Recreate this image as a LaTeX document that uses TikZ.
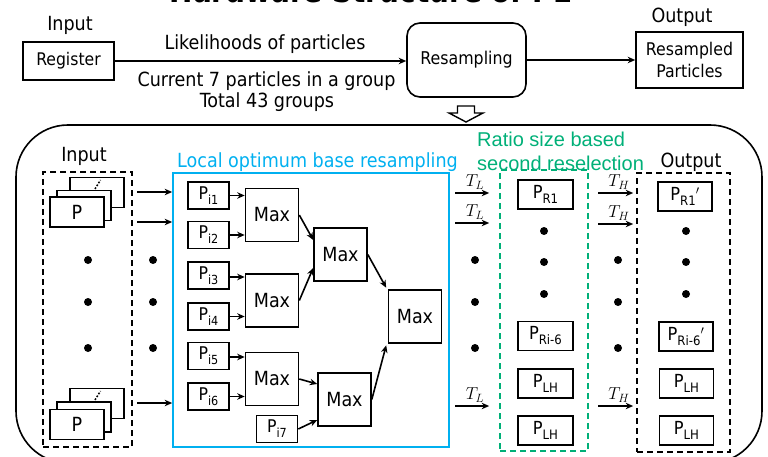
\documentclass[tikz,border=0pt]{standalone}
\usepackage{fontspec}
\setmainfont{DejaVu Sans Condensed}
\newfontfamily\arialf{Liberation Sans}
\usetikzlibrary{arrows.meta,calc}
\definecolor{lblue}{RGB}{0,176,240}
\definecolor{tgreen}{RGB}{0,176,120}
\newcommand\fsz[2]{\fontsize{#1}{#2}\selectfont}
\newcommand\sbs[2][12.5]{\raisebox{-5pt}{\fsz{#1}{#1}#2}}
\tikzset{
  bx/.style={draw, line width=1.6pt, inner sep=0pt, fill=white},
  maxbox/.style={bx, minimum width=53, minimum height=53, font=\fsz{19.5}{20}},
  pibox/.style={bx, minimum width=41, minimum height=27, font=\fsz{17.5}{18}},
  prbox/.style={bx, minimum width=55, minimum height=29, font=\fsz{18}{18}},
  card/.style={bx, minimum width=54, minimum height=30, font=\fsz{19.5}{20}},
  arr/.style={line width=1.6pt, -{Stealth[length=7.5pt,width=6.5pt]}},
  lab/.style={inner sep=0pt, font=\fsz{19.5}{22}},
  dot/.style={circle, fill=black, inner sep=0pt, minimum size=8},
  dbox/.style={draw, line width=1.7pt, dash pattern=on 6pt off 4pt, inner sep=0pt},
  tlab/.style={inner sep=0pt, font=\fsz{18}{18}},
}
\begin{document}
\begin{tikzpicture}[x=1pt,y=-1pt]
\useasboundingbox (0,0) rectangle (768,457);

% ---------- title (cropped) ----------
\node[anchor=base, inner sep=0pt, font=\fsz{31}{32}\bfseries] (title) at (371,2.5) {Hardware Structure of PE};

% ---------- top row ----------
\node[lab] (inTop) at (70,25.5) {Input};
\node[bx, minimum width=91, minimum height=38, font=\fsz{17.4}{18}] (reg) at (68.5,61) {Register};
\node[bx, rounded corners=13, minimum width=119, minimum height=74, font=\fsz{17.6}{18}] (res) at (466.5,60) {Resampling};
\node[bx, minimum width=107, minimum height=56, align=center, font=\fsz{17.5}{22}] (rp) at (689.5,60) {Resampled\\Particles};
\node[lab] (outTop) at (682,17.5) {Output};
\draw[arr] (reg.east) -- (reg.east -| res.west);
\draw[arr] (res.east) -- (res.east -| rp.west);
\node[lab] (l1) at (265,44) {Likelihoods of particles};
\node[lab] (l2) at (266.5,81) {Current 7 particles in a group};
\node[lab] (l3) at (267,102.5) {Total 43 groups};

% hollow block arrow
\draw[line width=1.4pt, fill=white] (457.5,106) -- (474.5,106) -- (474.5,113) -- (483,113) -- (466,122) -- (449,113) -- (457.5,113) -- cycle;

% ---------- big frame ----------
\node[draw, line width=1.6pt, rounded corners=52, minimum width=746, minimum height=338, inner sep=0pt] (frame) at (389,294) {};

% ---------- input column ----------
\node[lab] (inIn) at (84,156.5) {Input};
\node[dbox, minimum width=89, minimum height=275] (inbox) at (87.5,309.5) {};
% top stack
\node[card] (cb1) at (97,192.5) {};
\draw[line width=1.5pt, dash pattern=on 1.8pt off 1.6pt] (95,189) -- (100.5,180);
\node[card] (cm1) at (84,205.5) {};
\node[card] (cf1) at (77,212) {P};
% bottom stack
\node[card] (cb2) at (97,403.5) {};
\draw[line width=1.5pt, dash pattern=on 1.8pt off 1.6pt] (95,400) -- (100.5,391);
\node[card] (cm2) at (84,417) {};
\node[card] (cf2) at (77,424.5) {P};

\foreach \yy in {260,302,348} {
  \node[dot] at (88,\yy) {};
  \node[dot] at (153,\yy) {};
  \node[dot] at (475,\yy) {};
  \node[dot] at (618,\yy) {};
}

% ---------- local optimum box ----------
\node[inner sep=0pt, font=\fsz{19.5}{22}, text=lblue] (loclab) at (317.5,162) {Local optimum base resampling};
\node[draw=lblue, line width=1.7pt, minimum width=276, minimum height=274, inner sep=0pt] (local) at (311,310) {};

\coordinate (ia1) at (137,192);
\coordinate (ia2) at (137,222);
\coordinate (ia3) at (137,403);
\foreach \c in {ia1,ia2,ia3} \draw[arr] (\c) -- (\c -| local.west);

\node[pibox] (p1) at (208.5,195.5) {P\sbs{i1}};
\node[pibox] (p2) at (208.5,235) {P\sbs{i2}};
\node[pibox] (p3) at (208.5,275.5) {P\sbs{i3}};
\node[pibox] (p4) at (208.5,316.5) {P\sbs{i4}};
\node[pibox] (p5) at (208.5,356) {P\sbs{i5}};
\node[pibox] (p6) at (208.5,396.5) {P\sbs{i6}};
\node[pibox] (p7) at (277,429) {P\sbs{i7}};

\node[maxbox] (m1) at (272,215) {Max};
\node[maxbox] (m2) at (272,300.5) {Max};
\node[maxbox] (m3) at (272,379) {Max};
\node[maxbox] (m4) at (340.5,254.5) {Max};
\node[maxbox] (m5) at (344.5,399.5) {Max};
\node[maxbox] (m6) at (415,316.5) {Max};

\draw[arr] (p1.east) -- (p1.east -| m1.west);
\draw[arr] (p2.east) -- (p2.east -| m1.west);
\draw[arr] ($(p3.east)+(0,1.5)$) -- ($(p3.east -| m2.west)+(0,1.5)$);
\draw[arr] (p4.east) -- (p4.east -| m2.west);
\draw[arr] ($(p5.east)+(0,1)$) -- ($(p5.east -| m3.west)+(0,1)$);
\draw[arr] (p6.east) -- (p6.east -| m3.west);
\draw[arr] (p7.east) -- ($(m5.west)+(0,20.5)$);
\draw[arr] (m3.east) -- ($(m5.west)+(0,-15.5)$);
\draw[arr] (m1.east) -- ($(m4.west)+(0,-14.5)$);
\draw[arr] (m2.east) -- ($(m4.west)+(0,13.5)$);
\draw[arr] (m4.east) -- ($(m6.north west)+(-1.5,-1.5)$);
\draw[arr] (m5.east) -- ($(m6.south west)+(-1.5,1.5)$);

% ---------- ratio based second reselection ----------
\node[anchor=west, inner sep=0pt, font=\arialf\fsz{20}{22}, text=tgreen] (rlab1) at (477,139.5) {Ratio size based};
\node[dbox, draw=tgreen, minimum width=88, minimum height=281] (green) at (544,310.5) {};
\node[anchor=west, inner sep=0pt, font=\arialf\fsz{20}{22}, text=tgreen] (rlab2) at (477,163) {second reselection};

\node[prbox] (r1) at (545.5,194.5) {P\sbs[13]{R1}};
\node[prbox] (r2) at (545.5,336) {P\sbs[13]{Ri-6}};
\node[prbox] (r3) at (545.5,383.5) {P\sbs[13]{LH}};
\node[prbox] (r4) at (545.5,430.5) {P\sbs[13]{LH}};
\foreach \yy in {231,262,294} {
  \node[dot] at (544,\yy) {};
  \node[dot] at (686,\yy) {};
}

\coordinate (tl1) at (455,193);
\coordinate (tl2) at (455,223);
\coordinate (tl3) at (455,406);
\foreach \c in {tl1,tl2,tl3} {
  \draw[arr, shorten >=10pt] (\c) -- (\c -| green.west);
  \node[tlab] at ($(\c)+(20,-11)$) {$T_L$};
}

% ---------- output ----------
\node[lab] (outIn) at (691,162.5) {Output};
\node[dbox, minimum width=93, minimum height=279] (obox) at (683.5,312.5) {};

\coordinate (th1) at (598,193);
\coordinate (th2) at (598,224);
\coordinate (th3) at (598,406);
\foreach \c in {th1,th2,th3} {
  \draw[arr, shorten >=3pt] (\c) -- (\c -| obox.west);
  \node[tlab] at ($(\c)+(21,-11)$) {$T_H$};
}

\node[prbox, minimum width=54] (o1) at (685,196.5) {P\sbs[13]{R1}$^{\prime}$};
\node[prbox, minimum width=54] (o2) at (686,336.5) {P\sbs[13]{Ri-6}$^{\prime}$};
\node[prbox, minimum width=54] (o3) at (686.5,383.5) {P\sbs[13]{LH}};
\node[prbox, minimum width=54] (o4) at (686.5,430.5) {P\sbs[13]{LH}};
\end{tikzpicture}
\end{document}
